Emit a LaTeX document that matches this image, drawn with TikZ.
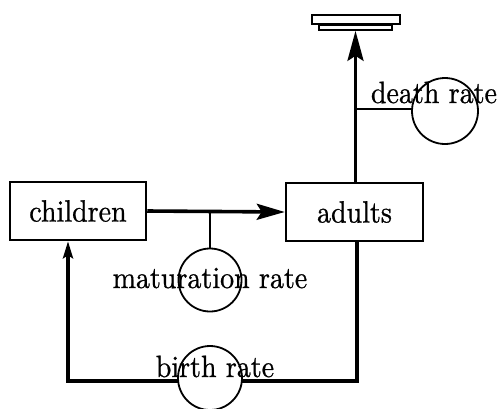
\documentclass[tikz,border=0pt]{standalone}
\usepackage{fontspec}
\setmainfont{lmroman10-regular.otf}[FakeBold=0.8]
\usetikzlibrary{arrows.meta}
\newcommand\lbl{\fontsize{28}{30}\selectfont}
\newcommand\tall[1]{\scalebox{1}[1.1]{#1}}
\begin{document}
\begin{tikzpicture}[x=1pt,y=-1pt,
  stock/.style={draw,line width=2.5pt,minimum width=136pt,minimum height=58pt,inner sep=0pt,font=\lbl},
  conv/.style={draw,circle,line width=1.8pt,minimum size=63pt,inner sep=0pt},
  lbltext/.style={anchor=base,inner sep=0pt,font=\lbl},
  link/.style={line width=1.8pt},
  flow/.style={line width=3.6pt,-{Stealth[length=28pt,width=16pt,inset=5pt]}},
  loop/.style={line width=3.6pt,-{Stealth[length=17pt,width=10pt,inset=3pt]}},
  sinkbox/.style={draw,line width=1.8pt,inner sep=0pt}]
\useasboundingbox (0,0) rectangle (497,408);

% stocks
\node[stock] (children) at (78,211) {\tall{children}};
\node[stock,minimum width=137pt] (adults) at (354.5,212) {\tall{adults}};

% sink at the top
\node[sinkbox,minimum width=88pt,minimum height=9pt] (sink) at (356,19.5) {};
\node[sinkbox,minimum width=73pt,minimum height=5pt,anchor=north] (sinklow) at (355.5,24) {};

% maturation flow
\coordinate (matj) at (210,211);
\draw[flow] (children.east) -- (adults.west);
\node[conv] (matc) at (210,280) {};
\draw[link] (matj) -- (matc.north);
\node[lbltext] (matl) at (210,288) {\tall{maturation rate}};

% death flow
\coordinate (deathj) at (355,109);
\draw[flow,-{Stealth[length=30pt,width=16pt,inset=5pt]}] (adults.north -| sinklow.south) -- (sinklow.south);
\node[conv,minimum size=66pt] (deathc) at (445,111) {};
\draw[link] (deathj) -- (deathj -| deathc.west);
\node[lbltext] (deathl) at (434,103) {\tall{death rate}};

% birth loop
\coordinate (br) at (357,381);
\coordinate (bl) at (68,381);
\draw[loop] (adults.south -| br) -- (br) -- (bl) -- (children.south -| bl);
\node[conv,minimum size=64pt,fill=white] (birthc) at (210,378) {};
\node[lbltext] (birthl) at (215,377) {\tall{birth rate}};
\end{tikzpicture}
\end{document}
